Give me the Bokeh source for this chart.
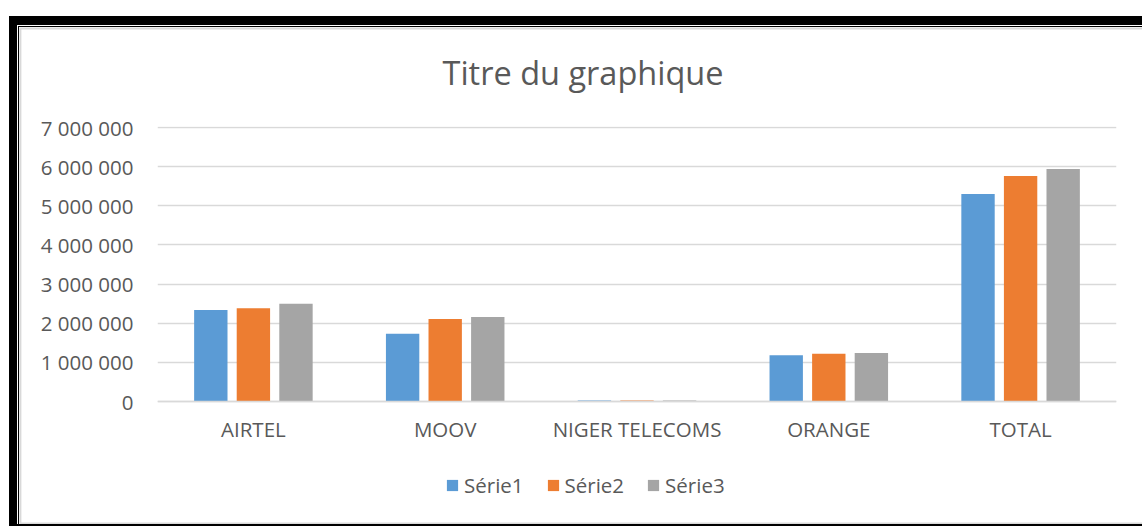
from bokeh.plotting import figure
from bokeh.models import (ColumnDataSource, FactorRange, Range1d, FixedTicker, Legend,
                          LegendItem, InlineStyleSheet)
from bokeh.transform import dodge
from bokeh.embed import file_html
from bokeh.resources import INLINE

categories = ["AIRTEL", "MOOV", "NIGER TELECOMS", "ORANGE", "TOTAL"]
serie1 = [2340000, 1730000, 25000, 1180000, 5300000]
serie2 = [2380000, 2110000, 25000, 1220000, 5760000]
serie3 = [2500000, 2160000, 25000, 1240000, 5940000]
series_names = ["Série1", "Série2", "Série3"]
y_ticks = [0, 1000000, 2000000, 3000000, 4000000, 5000000, 6000000, 7000000]
y_tick_labels = ["0", "1 000 000", "2 000 000", "3 000 000", "4 000 000",
                 "5 000 000", "6 000 000", "7 000 000"]

FONT = "Open Sans"
TXT = "#595959"
colors = ["#5B9BD5", "#ED7D31", "#A5A5A5"]

W, H = 1142, 527
# frame spans y 126..515 px; value axis: 0 at 401 px, 7 000 000 at 127 px
PX_PER_UNIT = 274 / 7000000
y_top = 7000000 + 1 / PX_PER_UNIT
y_bottom = -114 / PX_PER_UNIT
p = figure(width=W, height=H, x_range=FactorRange(factors=categories),
           y_range=Range1d(y_bottom, y_top), output_backend="svg", toolbar_location=None,
           min_border_left=157, min_border_right=26, min_border_top=126,
           min_border_bottom=12, title="Titre du graphique")

src = ColumnDataSource(dict(cat=categories, s1=serie1, s2=serie2, s3=serie3))
offsets = [-0.222, 0.0, 0.222]
renderers = []
for key, off, col in zip(["s1", "s2", "s3"], offsets, colors):
    r = p.vbar(x=dodge("cat", off, range=p.x_range), top=key, width=0.174,
               source=src, fill_color=col, line_color=None)
    renderers.append(r)

p.title.text_font = FONT
p.title.text_font_size = "32.5px"
p.title.text_font_style = "normal"
p.title.text_color = TXT
p.title.align = "left"
p.title.offset = 285
p.title.standoff = 63

p.outline_line_color = None
p.xgrid.grid_line_color = None
p.ygrid.grid_line_color = "#D9D9D9"
p.ygrid.grid_line_width = 1.4

p.yaxis.ticker = FixedTicker(ticks=y_ticks)
p.yaxis.major_label_overrides = {t: l for t, l in zip(y_ticks, y_tick_labels)}
p.yaxis.axis_line_color = None
p.yaxis.major_tick_line_color = None
p.yaxis.minor_tick_line_color = None
p.yaxis.major_label_standoff = 18
p.yaxis.major_label_text_font = FONT
p.yaxis.major_label_text_font_size = "20.5px"
p.yaxis.major_label_text_color = TXT

p.xaxis.fixed_location = 0
p.xaxis.axis_line_color = "#D9D9D9"
p.xaxis.axis_line_width = 1.4
p.xaxis.major_tick_line_color = None
p.xaxis.minor_tick_line_color = None
p.xaxis.major_label_standoff = 7
p.xaxis.major_label_text_font = FONT
p.xaxis.major_label_text_font_size = "20.5px"
p.xaxis.major_label_text_color = TXT

legend = Legend(items=[LegendItem(label=n, renderers=[r]) for n, r in zip(series_names, renderers)],
                orientation="horizontal", location=(288, 16), glyph_width=14, glyph_height=14,
                label_standoff=5, spacing=22, padding=0, margin=0, border_line_color=None,
                background_fill_alpha=0, label_text_font=FONT, label_text_font_size="20.5px",
                label_text_color=TXT)
p.add_layout(legend, "center")

# page frame (black double line) and chart border (gray)
frame_css = InlineStyleSheet(css="""
:host::before {
  content: ""; position: absolute; box-sizing: border-box; pointer-events: none; z-index: 5;
  left: 9px; top: 16px; right: 0px; bottom: 1px;
  border-left: 8px solid black; border-top: 9px solid black; border-bottom: 2px solid black;
}
:host::after {
  content: ""; position: absolute; box-sizing: border-box; pointer-events: none; z-index: 5;
  left: 18px; top: 25.5px; right: 0px; bottom: 3px;
  border-left: 1.4px solid black; border-top: 1px solid black;
  box-shadow: inset 0.5px 0.6px 0 0 #fff, inset 2.4px 2.6px 0 0 #D9D9D9, inset 0 -1.5px 0 0 #D9D9D9;
}
""")
p.stylesheets = [frame_css]

open("out.html", "w").write(file_html(p, INLINE))
